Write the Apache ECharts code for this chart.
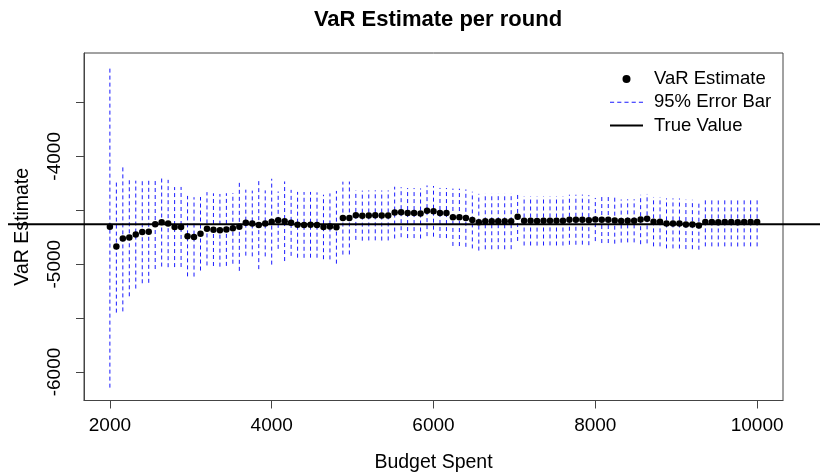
<!DOCTYPE html>
<html>
<head>
<meta charset="utf-8">
<script src="https://cdn.jsdelivr.net/npm/echarts@6/dist/echarts.min.js"></script>
<style>
  html, body { margin: 0; padding: 0; background: #fff; }
  #chart { width: 820px; height: 474px; }
</style>
</head>
<body>
<div id="chart"></div>
<script>
// Budget spent at each round
const budget = [
  2000, 2080, 2160, 2240, 2320, 2400, 2480, 2560, 2640, 2720,
  2800, 2880, 2960, 3040, 3120, 3200, 3280, 3360, 3440, 3520,
  3600, 3680, 3760, 3840, 3920, 4000, 4080, 4160, 4240, 4320,
  4400, 4480, 4560, 4640, 4720, 4800, 4880, 4960, 5040, 5120,
  5200, 5280, 5360, 5440, 5520, 5600, 5680, 5760, 5840, 5920,
  6000, 6080, 6160, 6240, 6320, 6400, 6480, 6560, 6640, 6720,
  6800, 6880, 6960, 7040, 7120, 7200, 7280, 7360, 7440, 7520,
  7600, 7680, 7760, 7840, 7920, 8000, 8080, 8160, 8240, 8320,
  8400, 8480, 8560, 8640, 8720, 8800, 8880, 8960, 9040, 9120,
  9200, 9280, 9360, 9440, 9520, 9600, 9680, 9760, 9840, 9920,
  10000
];

// VaR estimate per round
const varEstimate = [
  -4653, -4836, -4762, -4753, -4726, -4701, -4699, -4630, -4612, -4623,
  -4656, -4655, -4740, -4747, -4718, -4672, -4680, -4686, -4679, -4668,
  -4652, -4615, -4623, -4636, -4622, -4606, -4592, -4602, -4617, -4635,
  -4636, -4635, -4637, -4655, -4650, -4658, -4573, -4572, -4546, -4550,
  -4548, -4547, -4549, -4548, -4522, -4518, -4526, -4526, -4530, -4505,
  -4510, -4525, -4526, -4565, -4566, -4573, -4591, -4611, -4602, -4602,
  -4601, -4602, -4601, -4560, -4598, -4598, -4599, -4598, -4597, -4598,
  -4598, -4588, -4588, -4587, -4592, -4586, -4588, -4588, -4594, -4600,
  -4598, -4598, -4586, -4578, -4606, -4606, -4622, -4622, -4623, -4631,
  -4632, -4642, -4610, -4610, -4611, -4610, -4610, -4611, -4610, -4610,
  -4610
];

// Half width of the 95% interval around each estimate
const errorMargin = [
  1492, 613, 676, 545, 500, 476, 474, 415, 410, 405,
  371, 371, 373, 368, 341, 340, 337, 337, 337, 328,
  410, 306, 305, 410, 306, 398, 266, 369, 306, 305,
  305, 305, 303, 299, 306, 337, 338, 338, 229, 232,
  232, 232, 232, 232, 240, 232, 232, 232, 232, 235,
  235, 232, 232, 266, 266, 266, 263, 263, 260, 260,
  260, 260, 260, 225, 229, 229, 229, 229, 229, 229,
  229, 232, 232, 232, 232, 200, 216, 216, 216, 200,
  200, 200, 229, 229, 229, 229, 232, 232, 232, 229,
  229, 224, 225, 225, 225, 225, 225, 225, 225, 225,
  225
];

const trueValue = -4630;

const xTicks = [2000, 4000, 6000, 8000, 10000];
const yTicks = [-6000, -5500, -5000, -4500, -4000, -3500];
const yTickLabels = [-6000, -5000, -4000];

// Interval ends
const lower = varEstimate.map((v, i) => v - errorMargin[i]);
const upper = varEstimate.map((v, i) => v + errorMargin[i]);

// Axis ranges padded by 4% on each side
function paddedRange(lo, hi) {
  const pad = (hi - lo) * 0.04;
  return [lo - pad, hi + pad];
}
const xRange = paddedRange(Math.min(...budget), Math.max(...budget));
const yRange = paddedRange(Math.min(...lower), Math.max(...upper));

// Each error bar is a separate segment, split by empty values
const barSegments = [];
budget.forEach((b, i) => {
  barSegments.push([b, lower[i]], [b, upper[i]], [b, '-']);
});

const points = budget.map((b, i) => [b, varEstimate[i]]);

const FONT = '"Liberation Sans", Arial, sans-serif';
const plain = v => String(Math.round(v));

const chart = echarts.init(document.getElementById('chart'), null, { renderer: 'canvas' });

chart.setOption({
  animation: false,
  backgroundColor: '#ffffff',
  title: {
    text: 'VaR Estimate per round',
    left: 433,
    textAlign: 'center',
    top: 4,
    textStyle: { fontFamily: FONT, fontSize: 22, fontWeight: 'bold', color: '#000' }
  },
  grid: {
    left: 84, right: 37, top: 53, bottom: 73.5,
    containLabel: false,
    outerBoundsMode: 'none',
    show: true, borderColor: '#444', borderWidth: 1, backgroundColor: 'transparent'
  },
  legend: {
    orient: 'vertical',
    left: 605,
    top: 64,
    itemWidth: 33,
    itemHeight: 8,
    itemGap: 3.3,
    selectedMode: false,
    textStyle: { fontFamily: FONT, fontSize: 18.5, color: '#000', lineHeight: 20, padding: [0, 0, 0, 6] },
    data: [
      { name: 'VaR Estimate', icon: 'circle' },
      { name: '95% Error Bar', icon: 'path://M0,0h4v1h-4z M7,0h4v1h-4z M14,0h4v1h-4z M21,0h4v1h-4z M28,0h4v1h-4z' },
      { name: 'True Value', icon: 'path://M0,0L33,0L33,2L0,2Z' }
    ]
  },
  xAxis: {
    type: 'value',
    min: xRange[0],
    max: xRange[1],
    name: 'Budget Spent',
    nameLocation: 'middle',
    nameGap: 52,
    nameTextStyle: { fontFamily: FONT, fontSize: 19.5, color: '#000' },
    axisLine: { show: true, lineStyle: { color: '#444', width: 1 } },
    axisTick: { show: true, length: 8, customValues: xTicks, lineStyle: { color: '#444' } },
    axisLabel: { customValues: xTicks, formatter: plain, margin: 16, fontFamily: FONT, fontSize: 19, color: '#000' },
    splitLine: { show: false }
  },
  yAxis: {
    type: 'value',
    min: yRange[0],
    max: yRange[1],
    name: 'VaR Estimate',
    nameLocation: 'middle',
    nameGap: 51,
    nameRotate: 90,
    nameTextStyle: { fontFamily: FONT, fontSize: 19.5, color: '#000' },
    axisLine: { show: true, lineStyle: { color: '#444', width: 1 } },
    axisTick: { show: true, length: 8, customValues: yTicks, lineStyle: { color: '#444' } },
    axisLabel: { customValues: yTickLabels, formatter: plain, rotate: 90, margin: 20, fontFamily: FONT, fontSize: 19, color: '#000' },
    splitLine: { show: false }
  },
  series: [
    {
      name: '95% Error Bar',
      type: 'line',
      data: barSegments,
      showSymbol: false,
      symbol: 'none',
      connectNulls: false,
      lineStyle: { color: '#1a1aff', width: 1, type: [4, 3] },
      itemStyle: { color: '#1a1aff' },
      z: 2
    },
    {
      name: 'True Value',
      type: 'custom',
      data: [[budget[0], trueValue]],
      clip: false,
      itemStyle: { color: '#000' },
      renderItem: function (params, api) {
        const y = api.coord([api.value(0), api.value(1)])[1];
        return {
          type: 'line',
          shape: { x1: 8, y1: y, x2: 820, y2: y },
          style: { stroke: '#000', lineWidth: 2 }
        };
      },
      z: 3
    },
    {
      name: 'VaR Estimate',
      type: 'scatter',
      data: points,
      symbol: 'circle',
      symbolSize: 6.5,
      itemStyle: { color: '#000', opacity: 1 },
      z: 4
    }
  ]
});
</script>
</body>
</html>
